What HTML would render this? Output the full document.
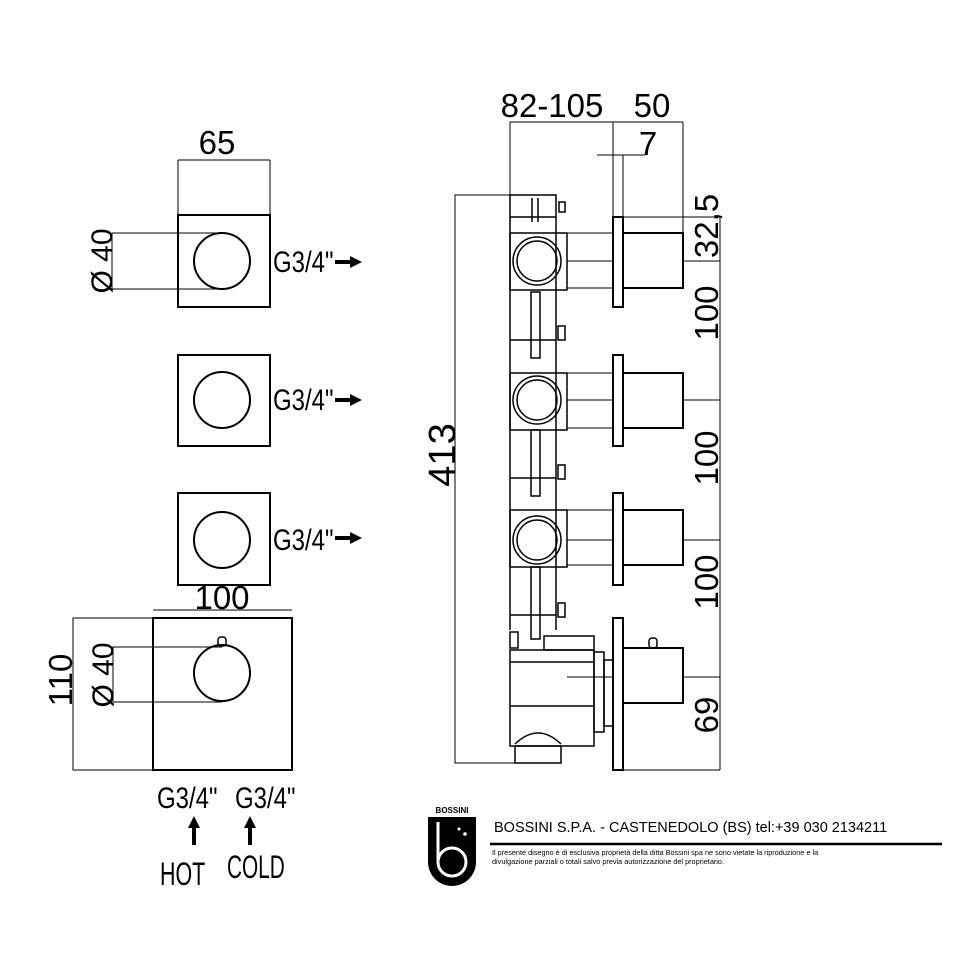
<!DOCTYPE html>
<html><head><style>body{margin:0;background:#fff}svg{display:block}</style></head><body>
<svg width="970" height="970" viewBox="0 0 970 970" xmlns="http://www.w3.org/2000/svg" font-family="'Liberation Sans',sans-serif">
<g stroke="#000" fill="none">
<line x1="178" y1="160" x2="270" y2="160" stroke-width="1"/>
<line x1="178" y1="160" x2="178" y2="215" stroke-width="1"/>
<line x1="270" y1="160" x2="270" y2="215" stroke-width="1"/>
<rect x="178" y="215" width="92" height="92" stroke-width="2"/>
<circle cx="222" cy="261" r="28" stroke-width="2"/>
<polyline points="222,233 112,233 112,289 222,289" stroke-width="1"/>
<rect x="178" y="355" width="92" height="91" stroke-width="2"/>
<circle cx="222" cy="400" r="28" stroke-width="2"/>
<rect x="178" y="493" width="92" height="92" stroke-width="2"/>
<circle cx="222" cy="540" r="28" stroke-width="2"/>
<line x1="153" y1="610" x2="292" y2="610" stroke-width="1"/>
<rect x="153" y="618" width="139" height="152" stroke-width="2"/>
<circle cx="222" cy="673" r="28" stroke-width="2"/>
<rect x="218" y="637" width="8" height="9" rx="3" stroke-width="1.5"/>
<polyline points="222,647 113,647 113,702 222,702" stroke-width="1"/>
<polyline points="153,618 73,618 73,770 153,770" stroke-width="1"/>
<line x1="510" y1="122" x2="683" y2="122" stroke-width="1"/>
<line x1="510" y1="122" x2="510" y2="195" stroke-width="1"/>
<line x1="613" y1="122" x2="613" y2="217" stroke-width="1"/>
<line x1="683" y1="122" x2="683" y2="233" stroke-width="1"/>
<line x1="597" y1="155" x2="645" y2="155" stroke-width="1"/>
<line x1="623" y1="155" x2="623" y2="217" stroke-width="1"/>
<polyline points="555,195 455,195 455,763 555,763" stroke-width="1"/>
<line x1="720" y1="217" x2="720" y2="770" stroke-width="1"/>
<line x1="623" y1="217" x2="720" y2="217" stroke-width="1"/>
<line x1="623" y1="770" x2="720" y2="770" stroke-width="1"/>
<line x1="683" y1="261" x2="720" y2="261" stroke-width="1"/>
<line x1="683" y1="400" x2="720" y2="400" stroke-width="1"/>
<line x1="683" y1="540" x2="720" y2="540" stroke-width="1"/>
<line x1="683" y1="677" x2="720" y2="677" stroke-width="1"/>
<g stroke-width="2">
<rect x="613" y="217" width="10" height="90"/><rect x="623" y="233" width="60" height="55"/>
<rect x="613" y="355" width="10" height="91"/><rect x="623" y="373" width="60" height="55"/>
<rect x="613" y="493" width="10" height="92"/><rect x="623" y="510" width="60" height="55"/>
<rect x="613" y="618" width="10" height="152"/><rect x="623" y="648" width="60" height="55"/>
<rect x="649" y="638" width="8" height="10" rx="3" stroke-width="1.5"/>
</g>
<g stroke-width="1.5">
<rect x="510" y="195" width="46" height="22"/>
<line x1="532" y1="198" x2="532" y2="222"/><line x1="538" y1="198" x2="538" y2="222"/>
<rect x="559" y="202" width="6" height="10"/>
<line x1="510" y1="217" x2="510" y2="630"/>
<line x1="556" y1="217" x2="556" y2="630"/>
<rect x="510" y="233" width="57" height="57"/><circle cx="537" cy="261" r="24"/><circle cx="537" cy="261" r="20"/>
<rect x="510" y="373" width="57" height="57"/><circle cx="537" cy="400" r="24"/><circle cx="537" cy="400" r="20"/>
<rect x="510" y="510" width="57" height="57"/><circle cx="537" cy="540" r="24"/><circle cx="537" cy="540" r="20"/>
<rect x="531" y="292" width="9" height="66"/><rect x="531" y="430" width="9" height="66"/><rect x="531" y="567" width="9" height="72"/>
<rect x="558" y="326" width="7" height="14"/><rect x="558" y="465" width="7" height="14"/><rect x="558" y="603" width="7" height="14"/>
<line x1="510" y1="340" x2="556" y2="340"/><line x1="510" y1="478" x2="556" y2="478"/><line x1="510" y1="615" x2="556" y2="615"/>
<rect x="510" y="632" width="8" height="16"/>
<rect x="544" y="636" width="50" height="14"/>
<rect x="510" y="650" width="84" height="96"/>
<line x1="510" y1="662" x2="594" y2="662"/><line x1="510" y1="706" x2="594" y2="706"/>
<rect x="594" y="652" width="10" height="80"/>
<rect x="604" y="660" width="9" height="66"/>
<rect x="515" y="746" width="46" height="17"/>
<path d="M515,744 Q538,722 561,744"/>
</g>
<line x1="567" y1="261" x2="613" y2="261" stroke-width="1"/>
<line x1="567" y1="400" x2="613" y2="400" stroke-width="1"/>
<line x1="567" y1="540" x2="613" y2="540" stroke-width="1"/>
<line x1="567" y1="677" x2="613" y2="677" stroke-width="1"/>
<line x1="567" y1="233" x2="613" y2="233" stroke-width="1"/><line x1="567" y1="288" x2="613" y2="288" stroke-width="1"/>
<line x1="567" y1="373" x2="613" y2="373" stroke-width="1"/><line x1="567" y1="428" x2="613" y2="428" stroke-width="1"/>
<line x1="567" y1="510" x2="613" y2="510" stroke-width="1"/><line x1="567" y1="565" x2="613" y2="565" stroke-width="1"/>
<line x1="490" y1="844" x2="942" y2="844" stroke-width="2.5"/>
</g>
<g fill="#000">
<rect x="335" y="260" width="17" height="4"/><polygon points="350,256 362,262 350,268"/>
<rect x="335" y="398" width="17" height="4"/><polygon points="350,394 362,400 350,406"/>
<rect x="335" y="536" width="17" height="4"/><polygon points="350,532 362,538 350,544"/>
<rect x="192" y="826" width="4" height="19"/><polygon points="188,828 194,816 200,828"/>
<rect x="248" y="826" width="4" height="19"/><polygon points="244,828 250,816 256,828"/>
</g>
<g fill="#000" font-size="33">
<text x="217" y="154" text-anchor="middle">65</text>
<text transform="translate(112,261) rotate(-90)" text-anchor="middle" font-size="30">Ø 40</text>
<text transform="translate(273,272) scale(0.8,1)" font-size="30">G3/4"</text>
<text transform="translate(273,410) scale(0.8,1)" font-size="30">G3/4"</text>
<text transform="translate(273,550) scale(0.8,1)" font-size="30">G3/4"</text>
<text x="222" y="609" text-anchor="middle">100</text>
<text transform="translate(113,675) rotate(-90)" text-anchor="middle" font-size="30">Ø 40</text>
<text transform="translate(72,680) rotate(-90)" text-anchor="middle">110</text>
<text transform="translate(157,808) scale(0.8,1)" font-size="30">G3/4"</text>
<text transform="translate(235,808) scale(0.8,1)" font-size="30">G3/4"</text>
<text transform="translate(160,885) scale(0.67,1)" font-size="32">HOT</text>
<text transform="translate(227,878) scale(0.65,1)" font-size="32">COLD</text>
<text x="552" y="117" text-anchor="middle">82-105</text>
<text x="652" y="117" text-anchor="middle">50</text>
<text x="648" y="155" text-anchor="middle">7</text>
<text transform="translate(455,455) rotate(-90)" text-anchor="middle" font-size="38">413</text>
<text transform="translate(718,226) rotate(-90)" text-anchor="middle">32,5</text>
<text transform="translate(718,313) rotate(-90)" text-anchor="middle">100</text>
<text transform="translate(718,458) rotate(-90)" text-anchor="middle">100</text>
<text transform="translate(718,582) rotate(-90)" text-anchor="middle">100</text>
<text transform="translate(718,715) rotate(-90)" text-anchor="middle">69</text>
</g>
<!-- logo -->
<text x="452" y="813" font-size="8" font-weight="bold" text-anchor="middle">BOSSINI</text>
<path d="M428,817 H476 V862 A24,24 0 0 1 428,862 Z" fill="#000"/>
<line x1="438" y1="822" x2="438" y2="862" stroke="#fff" stroke-width="3"/>
<circle cx="452" cy="862" r="14" fill="none" stroke="#fff" stroke-width="3"/>
<circle cx="459" cy="829" r="1.5" fill="#fff"/><circle cx="465" cy="834" r="1.8" fill="#fff"/>
<g fill="#000">
<text x="494" y="832" font-size="14.5">BOSSINI S.P.A. - CASTENEDOLO (BS) tel:+39 030 2134211</text>
<text x="492" y="855" font-size="7.3">Il presente disegno è di esclusiva proprietà della ditta Bossini spa ne sono vietate la riproduzione e la</text>
<text x="492" y="864" font-size="7.3">divulgazione parziali o totali salvo previa autorizzazione del proprietario.</text>
</g>
</svg>
</body></html>
